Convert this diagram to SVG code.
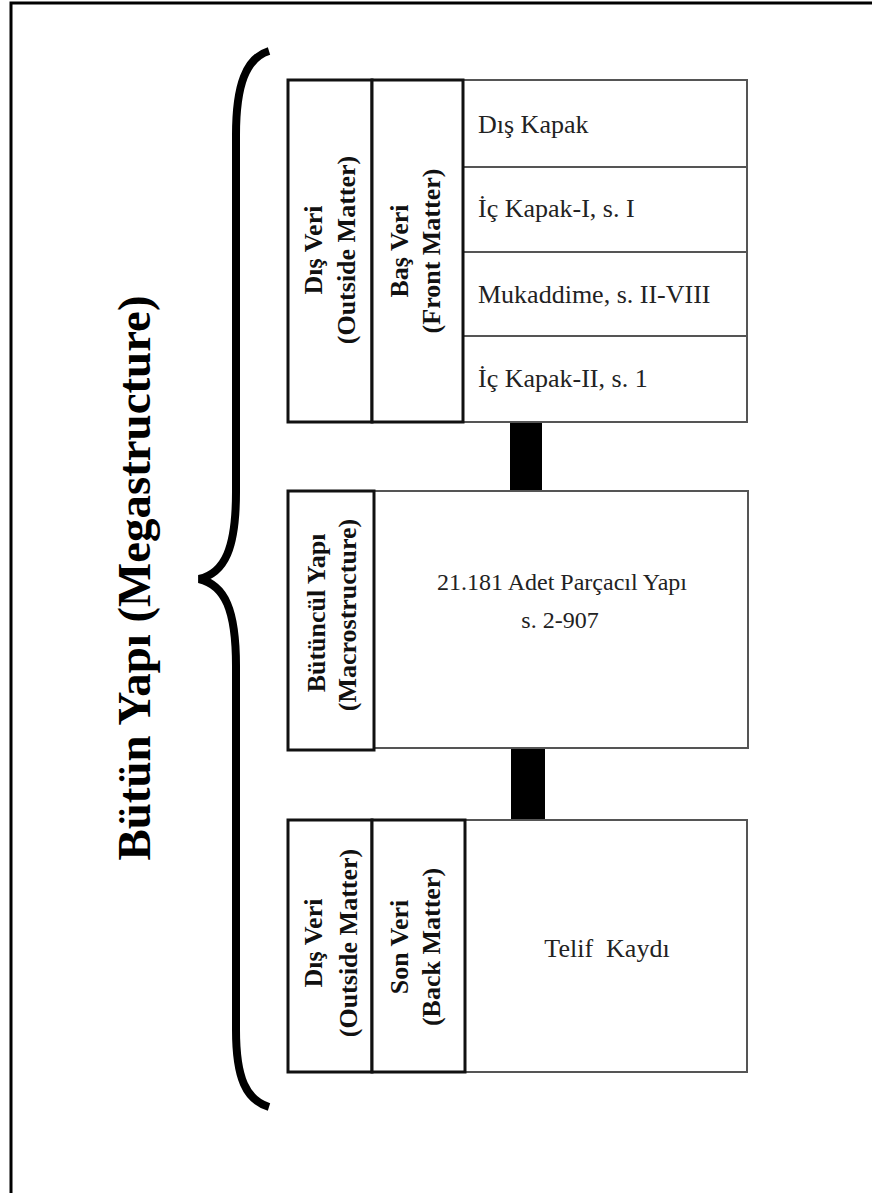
<svg xmlns="http://www.w3.org/2000/svg" width="872" height="1193" viewBox="0 0 872 1193">
<style>
.frame{fill:none;stroke:#000;stroke-width:3}
.thick{fill:#fff;stroke:#111;stroke-width:3}
.thin{fill:#fff;stroke:#555;stroke-width:2}
.div{stroke:#555;stroke-width:2}
.bar{fill:#000}
.lbl{font-family:"Liberation Serif","Times New Roman","DejaVu Serif",serif;font-weight:bold;font-size:26px;fill:#111;text-anchor:middle}
.cell{font-family:"Liberation Serif","Times New Roman","DejaVu Serif",serif;font-size:26px;fill:#222}
.ctr{font-family:"Liberation Serif","Times New Roman","DejaVu Serif",serif;font-size:24px;fill:#222;text-anchor:middle}
.title{font-family:"Liberation Serif","Times New Roman","DejaVu Serif",serif;font-weight:bold;font-size:47px;fill:#000;text-anchor:middle}
</style>
<rect width="872" height="1193" fill="#fff"/>
<path class="frame" d="M11,1193 V3 H872"/>
<g id="megastructure">
<path d="M269,51 C246,58 236,85 236,135 L236,492 C236,548 225,573 199,579 C225,585 236,610 236,666 L236,1030 C236,1078 246,1100 269,1107" fill="none" stroke="#000" stroke-width="8"/>
<text class="title" transform="translate(150,578) rotate(-90)" textLength="565" lengthAdjust="spacingAndGlyphs">Bütün Yapı (Megastructure)</text>
</g>
<g id="connectors">
<rect class="bar" x="510" y="422" width="32" height="69"/>
<rect class="bar" x="511" y="749" width="34" height="71"/>
</g>
<g id="front">
<rect class="thin" x="463" y="80" width="284" height="342"/>
<line class="div" x1="463" y1="167" x2="747" y2="167"/>
<line class="div" x1="463" y1="252" x2="747" y2="252"/>
<line class="div" x1="463" y1="336" x2="747" y2="336"/>
<rect class="thick" x="288" y="80" width="84" height="342"/>
<rect class="thick" x="372" y="80" width="91" height="342"/>
<text class="lbl" transform="translate(322,250) rotate(-90)">Dış Veri</text>
<text class="lbl" transform="translate(355,250) rotate(-90)">(Outside Matter)</text>
<text class="lbl" transform="translate(408,251) rotate(-90)">Baş Veri</text>
<text class="lbl" transform="translate(440,251) rotate(-90)">(Front Matter)</text>
<text class="cell" x="478" y="133">Dış Kapak</text>
<text class="cell" x="478" y="217">İç Kapak-I, s. I</text>
<text class="cell" x="478" y="303">Mukaddime, s. II-VIII</text>
<text class="cell" x="478" y="387">İç Kapak-II, s. 1</text>
</g>
<g id="macro">
<rect class="thin" x="374" y="491" width="374" height="257"/>
<rect class="thick" x="288" y="491" width="86" height="259"/>
<text class="lbl" transform="translate(325,613) rotate(-90)">Bütüncül Yapı</text>
<text class="lbl" transform="translate(356,615) rotate(-90)">(Macrostructure)</text>
<text class="ctr" x="562" y="590">21.181 Adet Parçacıl Yapı</text>
<text class="ctr" x="560" y="628">s. 2-907</text>
</g>
<g id="back">
<rect class="thin" x="465" y="820" width="282" height="252"/>
<rect class="thick" x="288" y="820" width="84" height="252"/>
<rect class="thick" x="372" y="820" width="93" height="252"/>
<text class="lbl" transform="translate(322,943) rotate(-90)">Dış Veri</text>
<text class="lbl" transform="translate(357,943) rotate(-90)">(Outside Matter)</text>
<text class="lbl" transform="translate(408,947) rotate(-90)">Son Veri</text>
<text class="lbl" transform="translate(440,947) rotate(-90)">(Back Matter)</text>
<text class="cell" x="607" y="957" text-anchor="middle" xml:space="preserve">Telif  Kaydı</text>
</g>
</svg>
